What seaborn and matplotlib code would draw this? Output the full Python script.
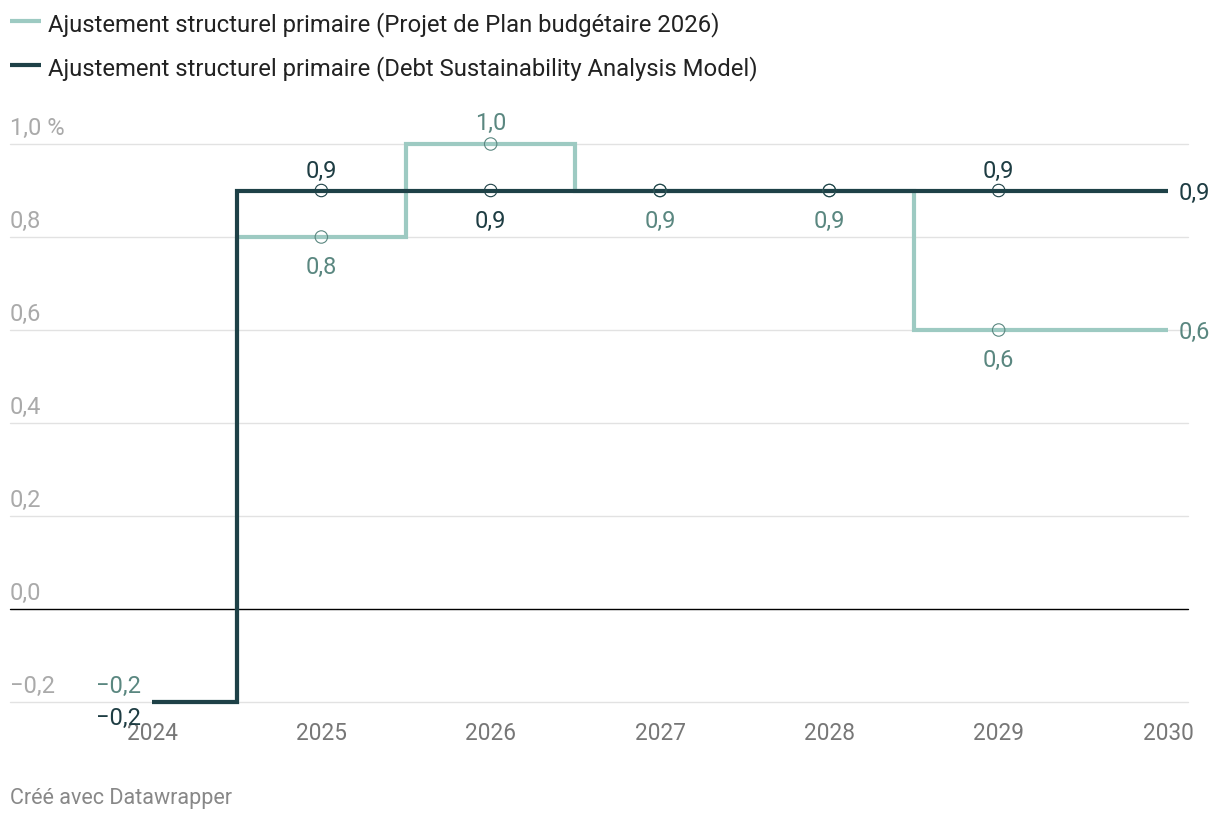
import matplotlib
matplotlib.use("Agg")
import matplotlib.pyplot as plt
import seaborn as sns
import pandas as pd
from matplotlib.lines import Line2D
from matplotlib.transforms import blended_transform_factory

# ---- data ----
years = [2024, 2025, 2026, 2027, 2028, 2029, 2030]
series_names = [
    "Ajustement structurel primaire (Projet de Plan budgétaire 2026)",
    "Ajustement structurel primaire (Debt Sustainability Analysis Model)",
]
plan_values = [-0.2, 0.8, 1.0, 0.9, 0.9, 0.6, 0.6]
dsa_values = [-0.2, 0.9, 0.9, 0.9, 0.9, 0.9, 0.9]
y_ticks = [-0.2, 0.0, 0.2, 0.4, 0.6, 0.8, 1.0]
y_tick_labels = ["−0,2", "0,0", "0,2", "0,4", "0,6", "0,8", "1,0 %"]
x_tick_labels = ["2024", "2025", "2026", "2027", "2028", "2029", "2030"]
credit = "Créé avec Datawrapper"

# ---- style ----
LIGHT = "#9dcac2"
DARK = "#1e4147"
LIGHT_TXT = "#5a8780"
DARK_TXT = "#1e3d43"
W, H, DPI = 1220, 820, 100

sns.set_theme(style="white")
plt.rcParams["font.family"] = ["Roboto", "DejaVu Sans"]

fig = plt.figure(figsize=(W / DPI, H / DPI), dpi=DPI)

def px_x(p):
    return p / W

def px_y(p):
    return 1 - p / H

ax_left, ax_right = 10, 1188
ax_top, ax_bot = 100, 703
ax = fig.add_axes([px_x(ax_left), px_y(ax_bot), (ax_right - ax_left) / W, (ax_bot - ax_top) / H])

pxu = 169.33  # pixels per year
ax.set_xlim(2024 - (152 - ax_left) / pxu, 2030 + (ax_right - 1168) / pxu)
ppv = 465.0  # pixels per unit
ax.set_ylim(-0.2, 1.0 + (145 - ax_top) / ppv)

df = pd.DataFrame({
    "year": years * 2,
    "value": plan_values + dsa_values,
    "series": [series_names[0]] * len(years) + [series_names[1]] * len(years),
})

sns.lineplot(data=df, x="year", y="value", hue="series", hue_order=series_names,
             palette=[LIGHT, DARK], estimator=None, drawstyle="steps-mid",
             linewidth=3, legend=False, ax=ax, zorder=3)
for ln in ax.lines:
    ln.set_clip_on(False)
    ln.set_solid_capstyle("butt")
    ln.set_solid_joinstyle("miter")

# markers (open circles) at 2025..2029
mk = df[(df["year"] > 2024) & (df["year"] < 2030)]
for name, ec in zip(series_names, [LIGHT_TXT, DARK]):
    sub = mk[mk["series"] == name]
    sns.scatterplot(data=sub, x="year", y="value", s=80, facecolor="none",
                    edgecolor=ec, linewidth=0.8, ax=ax, zorder=5, legend=False)

# grid & zero line
for v in y_ticks:
    if v == 0:
        gl = ax.axhline(v, color="#000000", lw=1.0, zorder=2)
    else:
        gl = ax.axhline(v, color="#e2e2e2", lw=1.0, zorder=1)
    gl.set_clip_on(False)
for s in ax.spines.values():
    s.set_visible(False)
ax.set_xticks([])
ax.set_yticks([])
ax.set_xlabel("")
ax.set_ylabel("")

FS = 17
# y tick labels
tr = blended_transform_factory(ax.transAxes, ax.transData)
for v, lab in zip(y_ticks, y_tick_labels):
    ax.annotate(lab, xy=(0, v), xycoords=tr, xytext=(0, 7.5), textcoords="offset points",
                ha="left", va="baseline", fontsize=FS, color="#aaaaaa",
                annotation_clip=False)
# x tick labels
for yr, lab in zip(years, x_tick_labels):
    ax.annotate(lab, xy=(yr, -0.2), xytext=(0, -26.5), textcoords="offset points",
                ha="center", va="baseline", fontsize=16.3, color="#777777", zorder=1,
                annotation_clip=False)

def fmt(v):
    return ("−" if v < 0 else "") + f"{abs(v):.1f}".replace(".", ",")

# label placement: (dx, dy) in points, ha
ABOVE = (0, 10, "center")
BELOW = (0, -26, "center")
plan_place = [(-8, 7.5, "right"), BELOW, (0, 10.5, "center"), BELOW, BELOW, BELOW, (7.5, -6, "left")]
dsa_place = [(-8, -16, "right"), ABOVE, BELOW, None, None, ABOVE, (7.5, -6, "left")]

for vals, places, col in [(plan_values, plan_place, LIGHT_TXT), (dsa_values, dsa_place, DARK_TXT)]:
    for yr, v, p in zip(years, vals, places):
        if p is None:
            continue
        dx, dy, ha = p
        ax.annotate(fmt(v), xy=(yr, v), xytext=(dx, dy), textcoords="offset points",
                    ha=ha, va="baseline", fontsize=FS, color=col, zorder=6,
                    annotation_clip=False)

# legend
for i, (name, col) in enumerate(zip(series_names, [LIGHT, DARK])):
    yy = px_y(22 + 44 * i)
    fig.add_artist(Line2D([px_x(10), px_x(41)], [yy, yy], color=col, lw=3,
                          transform=fig.transFigure, solid_capstyle="butt"))
    fig.text(px_x(48), yy, name, ha="left", va="center_baseline", fontsize=17.2, color="#222222")

fig.text(px_x(10), px_y(804), credit, ha="left", va="baseline", fontsize=15.5, color="#888888")

fig.savefig("out.png", dpi=DPI)
